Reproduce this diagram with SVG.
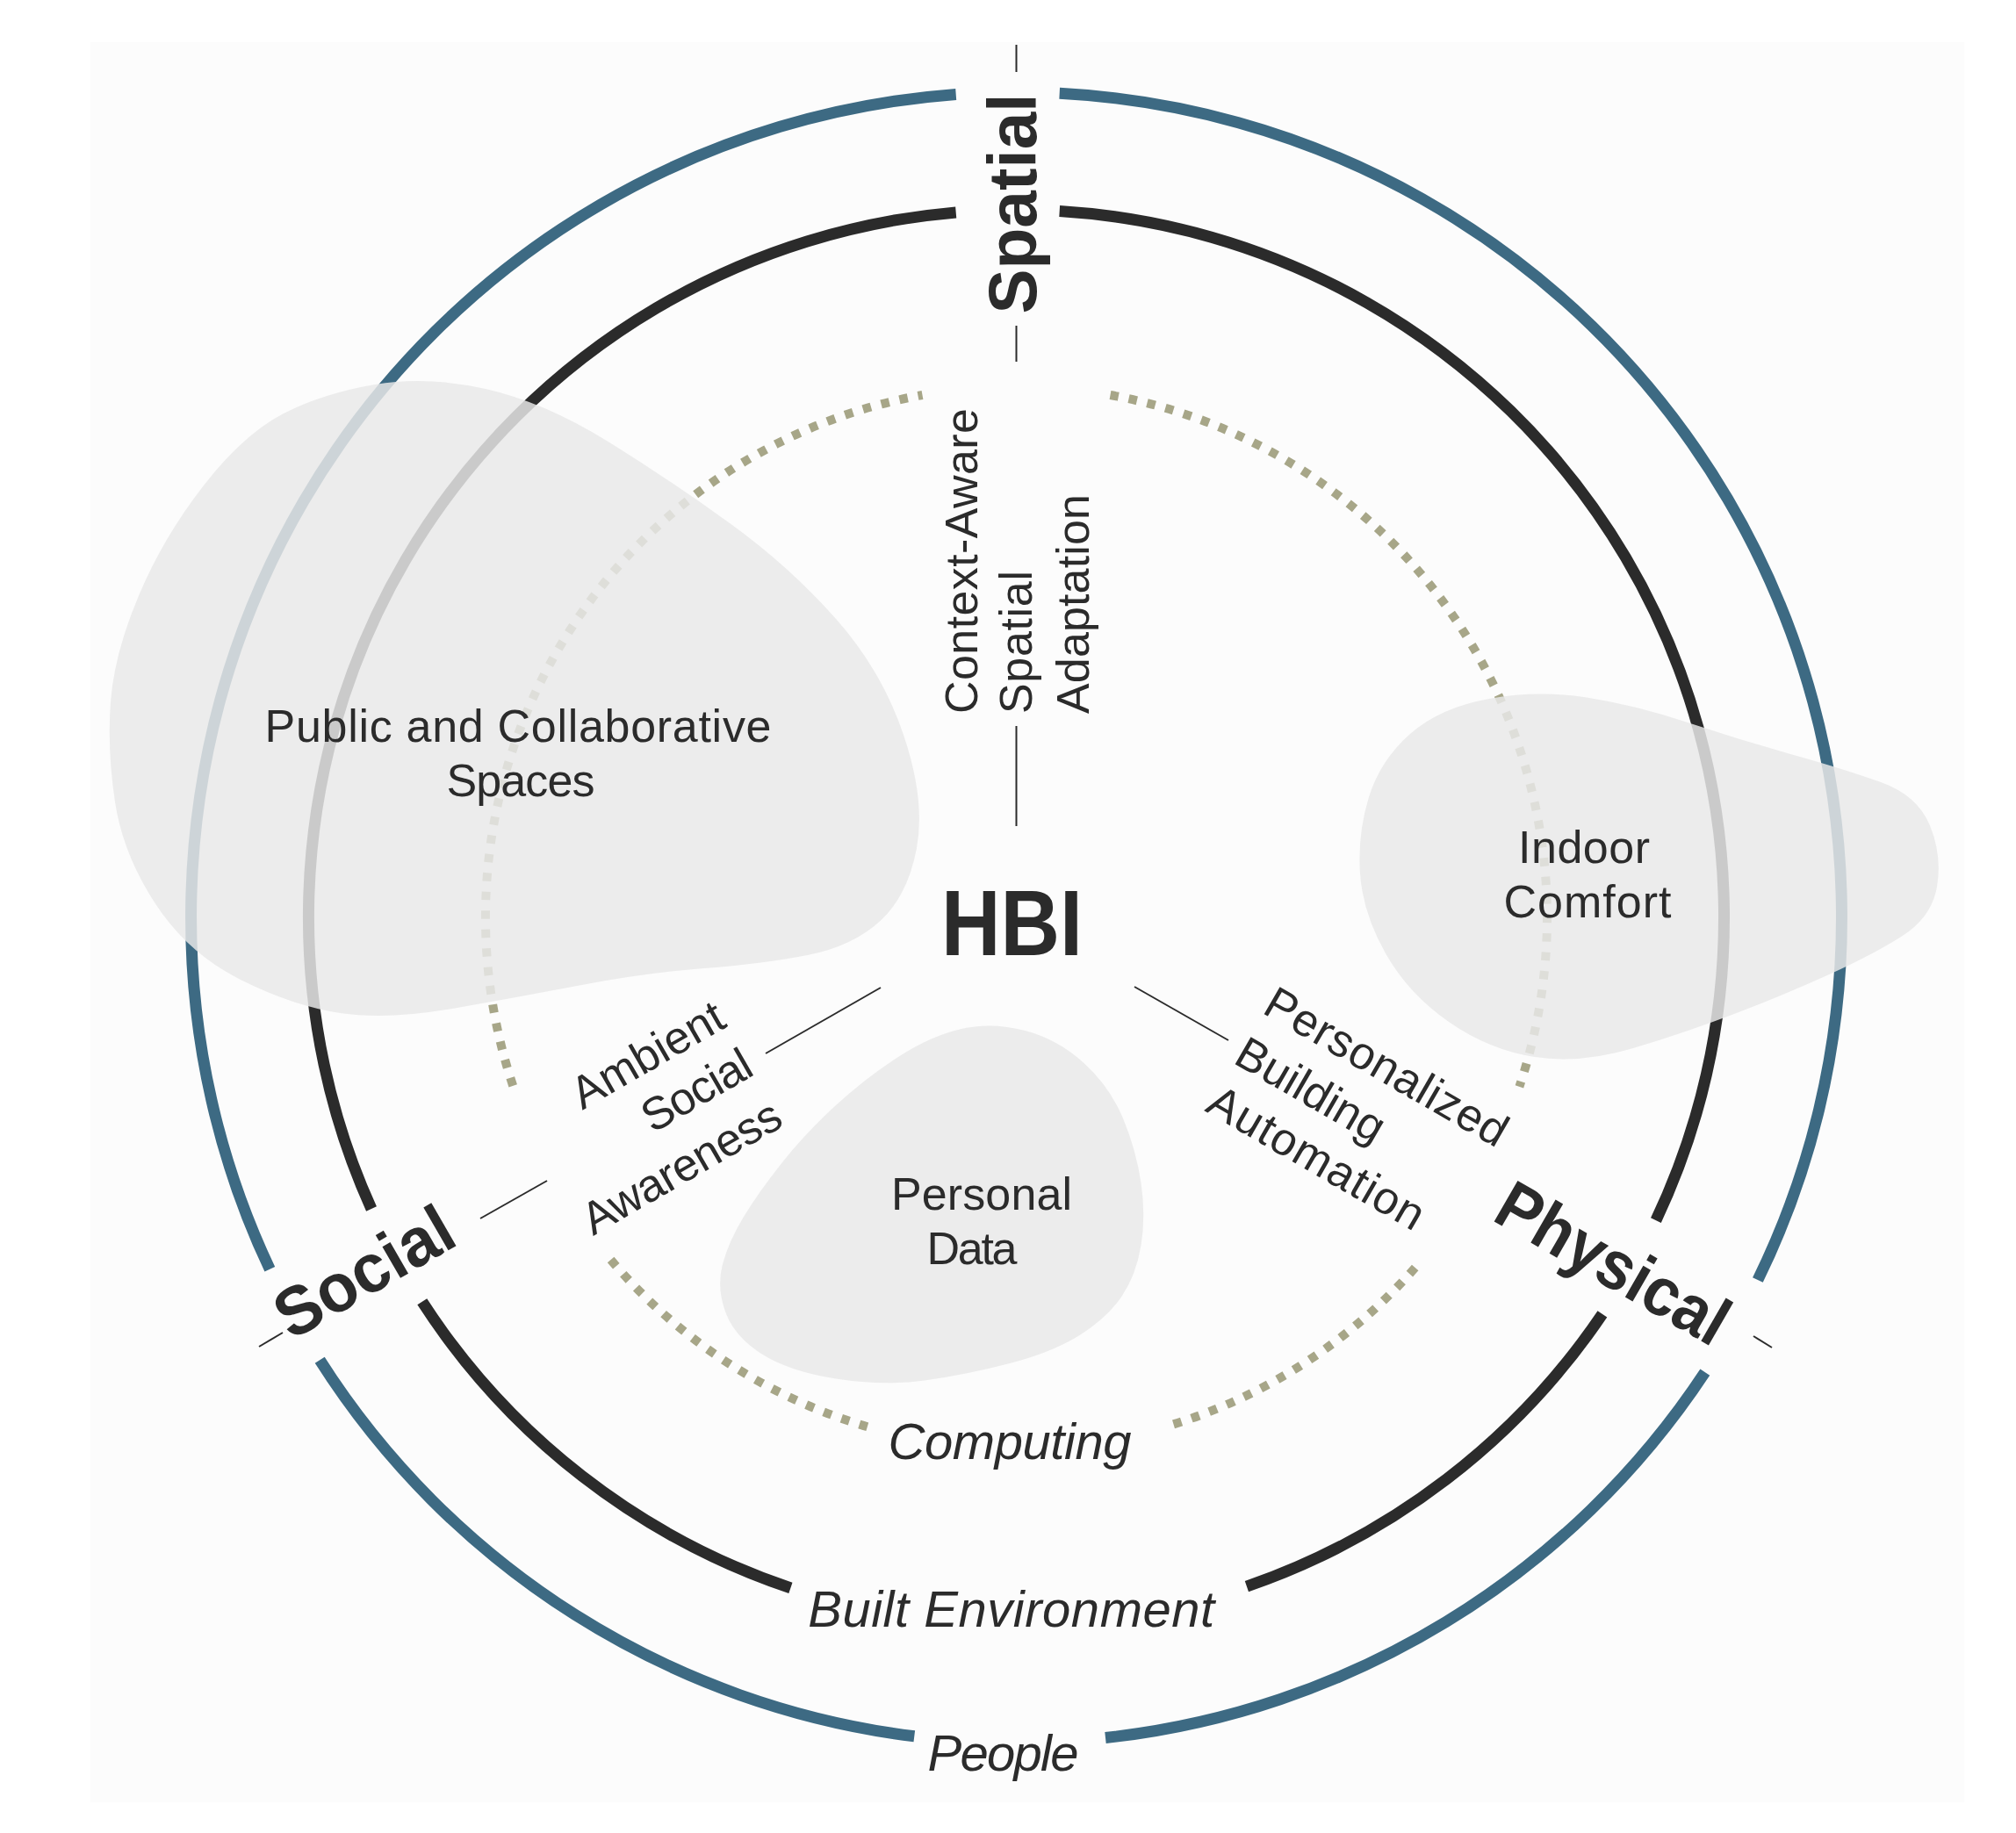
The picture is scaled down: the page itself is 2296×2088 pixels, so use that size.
<svg xmlns="http://www.w3.org/2000/svg" width="2296" height="2088" viewBox="0 0 2296 2088">
<style>
.blue{fill:none;stroke:#3d6a83;stroke-width:13}
.black{fill:none;stroke:#2b2b2b;stroke-width:13}
.dot{fill:none;stroke:#a7a688;stroke-width:10;stroke-dasharray:9.5 12}
.tick{stroke:#2b2b2b;stroke-width:2;fill:none}
.blob{fill:#e8e8e8;fill-opacity:0.845}
.t{font-family:"Liberation Sans",Arial,"Noto Sans",sans-serif;font-size:52px;fill:#2b2b2b}
.b{font-weight:bold;font-size:78px}
.i{font-style:italic;font-size:58px}
.h{font-weight:bold;font-size:106px}
</style>
<rect width="2296" height="2088" fill="#ffffff"/>
<rect x="103" y="48" width="2134" height="2005" fill="#fcfcfc"/>
<g id="rings">
<g id="people-ring">
<path class="blue" d="M1206.7,106.3 A940,940 0 0 1 2001.9,1458.0"/>
<path class="blue" d="M1941.8,1563.1 A940,940 0 0 1 1259.0,1979.5"/>
<path class="blue" d="M1041.3,1977.8 A940,940 0 0 1 364.2,1549.3"/>
<path class="blue" d="M307.3,1445.8 A940,940 0 0 1 1088.7,107.5"/>
</g>
<g id="built-environment-ring">
<path class="black" d="M1206.7,240.5 A806,806 0 0 1 1885.9,1390.1"/>
<path class="black" d="M1824.9,1496.9 A806,806 0 0 1 1419.9,1807.1"/>
<path class="black" d="M900.4,1808.9 A806,806 0 0 1 480.8,1482.8"/>
<path class="black" d="M423.0,1377.0 A806,806 0 0 1 1088.7,241.9"/>
</g>
<g id="computing-ring">
<path class="dot" d="M1264.5,450.0 A604.5,604.5 0 0 1 1730.4,1237.8"/>
<path class="dot" d="M1611.7,1444.0 A604.5,604.5 0 0 1 1326.1,1625.5"/>
<path class="dot" d="M987.8,1625.2 A604.5,604.5 0 0 1 689.0,1427.1"/>
<path class="dot" d="M584.2,1236.8 A604.5,604.5 0 0 1 1050.5,450.0"/>
</g>
</g>
<g id="connectors">
<line class="tick" x1="1157.5" y1="827" x2="1157.5" y2="941"/>
<line class="tick" x1="1157.5" y1="371" x2="1157.5" y2="412"/>
<line class="tick" x1="1157.5" y1="51" x2="1157.5" y2="82"/>
<line class="tick" x1="872" y1="1200" x2="1003" y2="1125"/>
<line class="tick" x1="547" y1="1388" x2="623" y2="1345"/>
<line class="tick" x1="295" y1="1534" x2="322" y2="1518"/>
<line class="tick" x1="1292" y1="1124" x2="1399" y2="1185"/>
<line class="tick" x1="1997" y1="1522" x2="2018" y2="1535"/>
</g>
<g id="blob-public">
<path class="blob" d="M427,438 Q486,428 553,443 Q620,458 692.5,503 Q765,548 832.5,597 Q900,646 952.5,705.5 Q1005,765 1029.5,838.5 Q1054,912 1044,966 Q1034,1020 1002.5,1049 Q971,1078 919.5,1088 Q868,1098 802,1103 Q736,1108 662.5,1122 Q589,1136 515,1149 Q441,1162 387.5,1154 Q334,1146 274,1116 Q214,1086 177,1029.5 Q140,973 131,913.5 Q122,854 126,799.5 Q130,745 158,678.5 Q186,612 232,553 Q278,494 323,471 Q368,448 427,438 Z"/>
<text class="t" x="590" y="845" text-anchor="middle" textLength="577">Public and Collaborative</text>
<text class="t" x="593" y="907" text-anchor="middle" textLength="169">Spaces</text>
</g>
<g id="blob-indoor">
<path class="blob" d="M1696,796 Q1752,786 1807,794.5 Q1862,803 1922,823 Q1982,843 2041,859.5 Q2100,876 2142,891 Q2184,906 2198,940.5 Q2212,975 2206,1010 Q2200,1045 2166,1066.5 Q2132,1088 2081,1111 Q2030,1134 1975,1155 Q1920,1176 1860,1194 Q1800,1212 1748,1204 Q1696,1196 1650,1164 Q1604,1132 1578,1086 Q1552,1040 1549,995 Q1546,950 1559,908 Q1572,866 1606,836 Q1640,806 1696,796 Z"/>
<text class="t" x="1804" y="983" text-anchor="middle" textLength="150">Indoor</text>
<text class="t" x="1808" y="1045" text-anchor="middle" textLength="191">Comfort</text>
</g>
<g id="blob-personal">
<path class="blob" d="M1095,1172 Q1130,1164 1167.5,1174 Q1205,1184 1234.5,1211 Q1264,1238 1279,1274 Q1294,1310 1299.5,1347.5 Q1305,1385 1299.5,1418.5 Q1294,1452 1278,1476 Q1262,1500 1231,1520 Q1200,1540 1150,1553 Q1100,1566 1053,1572.5 Q1006,1579 952,1570.5 Q898,1562 867,1542 Q836,1522 826,1494 Q816,1466 823,1440 Q830,1414 847,1386 Q864,1358 891,1324 Q918,1290 952,1259 Q986,1228 1023,1204 Q1060,1180 1095,1172 Z"/>
<text class="t" x="1118" y="1378" text-anchor="middle" textLength="206">Personal</text>
<text class="t" x="1107" y="1440" text-anchor="middle" textLength="103">Data</text>
</g>
<g id="hbi">
<text class="t h" x="1152.5" y="1088" text-anchor="middle" textLength="161" lengthAdjust="spacingAndGlyphs">HBI</text>
</g>
<g id="spatial">
<text class="t b" transform="translate(1180,232) rotate(-90)" text-anchor="middle" textLength="251" lengthAdjust="spacingAndGlyphs">Spatial</text>
</g>
<g id="social">
<text class="t b" transform="translate(428,1472) rotate(-30)" text-anchor="middle" textLength="222" lengthAdjust="spacingAndGlyphs">Social</text>
</g>
<g id="physical">
<text class="t b" transform="translate(1824,1462) rotate(30)" text-anchor="middle" textLength="292" lengthAdjust="spacingAndGlyphs">Physical</text>
</g>
<g id="context-aware">
<text class="t" transform="translate(1113,813) rotate(-90)" textLength="348">Context-Aware</text>
<text class="t" transform="translate(1175,813) rotate(-90)" textLength="163">Spatial</text>
<text class="t" transform="translate(1240,813) rotate(-90)" textLength="250">Adaptation</text>
</g>
<g id="ambient-social">
<text class="t" transform="translate(829.5,1168.8) rotate(-30)" text-anchor="end" textLength="192">Ambient</text>
<text class="t" transform="translate(861,1223.3) rotate(-30)" text-anchor="end" textLength="136">Social</text>
<text class="t" transform="translate(894.5,1281.4) rotate(-30)" text-anchor="end" textLength="253">Awareness</text>
</g>
<g id="personalized-building">
<text class="t" transform="translate(1436,1153) rotate(30)" textLength="310">Personalized</text>
<text class="t" transform="translate(1403,1210) rotate(30)" textLength="187">Building</text>
<text class="t" transform="translate(1371,1265) rotate(30)" textLength="276">Automation</text>
</g>
<g id="ring-labels">
<text class="t i" x="1150" y="1662" text-anchor="middle" textLength="277">Computing</text>
<text class="t i" x="1151.7" y="1853" text-anchor="middle" textLength="463">Built Environment</text>
<text class="t i" x="1142.5" y="2017" text-anchor="middle" textLength="172">People</text>
</g>
</svg>
